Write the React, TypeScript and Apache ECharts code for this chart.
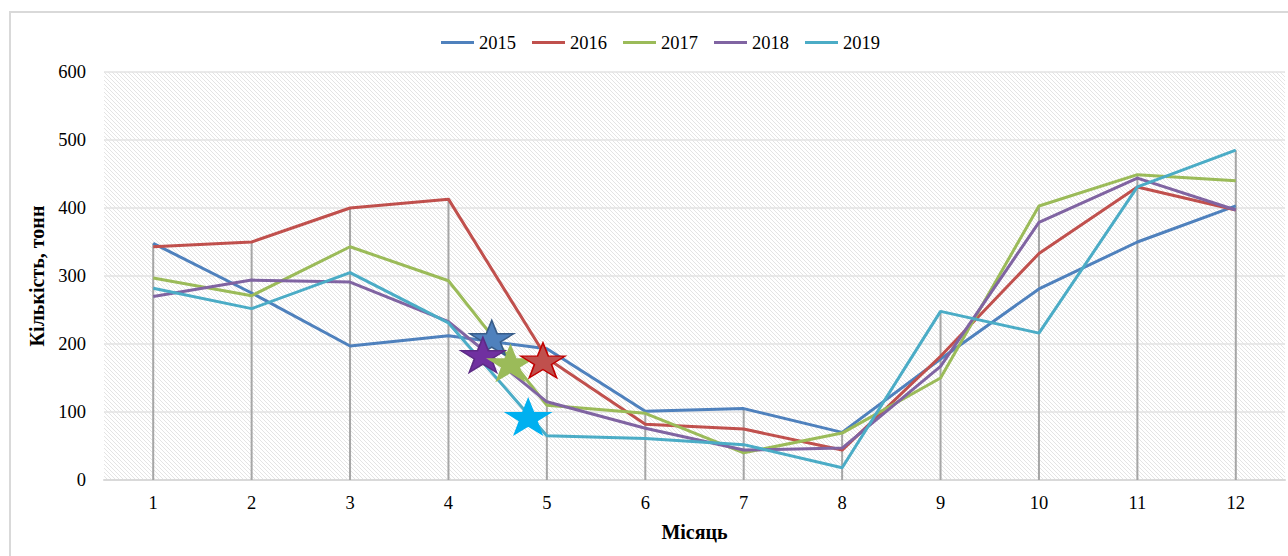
import React, { useEffect, useRef } from "react";
import * as echarts from "echarts";

const months = ["1", "2", "3", "4", "5", "6", "7", "8", "9", "10", "11", "12"];
const years = ["2015", "2016", "2017", "2018", "2019"];
const v2015 = [348, 275, 197, 212, 193, 101, 105, 70, 178, 281, 350, 403];
const v2016 = [343, 350, 400, 413, 179, 82, 75, 44, 182, 333, 431, 397];
const v2017 = [297, 271, 343, 293, 110, 98, 40, 69, 150, 403, 449, 440];
const v2018 = [270, 294, 291, 233, 115, 76, 44, 47, 167, 379, 444, 397];
const v2019 = [282, 252, 305, 231, 65, 61, 52, 18, 248, 216, 431, 485];
const colors = ["#4f81bd", "#c0504d", "#9bbb59", "#8064a2", "#4bacc6"];
// stars: [x position on month scale, value]
const starPoints = [
  [4.44, 209],
  [4.35, 184],
  [4.63, 172],
  [4.96, 176],
  [4.81, 93],
];
const starFill = ["#4f81bd", "#7030a0", "#9bbb59", "#c0504d", "#00b0f0"];
const starBorder = ["#385d8a", "#5c2a85", "#9bbb59", "#c00000", "#00b0f0"];
const yTicks = { min: 0, max: 600, interval: 100 };

const FONT = "Liberation Serif";
const STAR =
  "path://M50,0 L61.8,34.5 L97.6,34.5 L68.5,55.9 L79.4,90.5 L50,69.1 L20.6,90.5 L31.5,55.9 L2.4,34.5 L38.2,34.5 Z";

function makeHatch(): string {
  const c = document.createElement("canvas");
  c.width = 4;
  c.height = 4;
  const ctx = c.getContext("2d")!;
  ctx.fillStyle = "#ffffff";
  ctx.fillRect(0, 0, 4, 4);
  ctx.strokeStyle = "#e4e4e4";
  ctx.lineWidth = 1;
  ctx.beginPath();
  ctx.moveTo(-1, -1);
  ctx.lineTo(5, 5);
  ctx.moveTo(-3, 1);
  ctx.lineTo(3, 7);
  ctx.moveTo(1, -3);
  ctx.lineTo(7, 3);
  ctx.stroke();
  return c.toDataURL();
}

export default function App() {
  const ref = useRef<HTMLDivElement>(null);
  useEffect(() => {
    if (!ref.current) return;
    const chart = echarts.init(ref.current, undefined, { renderer: "svg" });
    const all = [v2015, v2016, v2017, v2018, v2019];
    const maxPer = months.map((_, i) => Math.max(...all.map((s) => s[i])));
    const hatch = makeHatch();
    chart.setOption({
      animation: false,
      backgroundColor: "#ffffff",
      textStyle: { fontFamily: FONT },
      graphic: [
        {
          type: "rect",
          shape: { x: 10, y: 12, width: 1300, height: 600 },
          style: { fill: "none", stroke: "#d9d9d9", lineWidth: 2 },
          z: 100,
          silent: true,
        },
      ],
      legend: {
        data: years,
        top: 28,
        left: 436,
        icon: "rect",
        itemWidth: 33,
        itemHeight: 3,
        itemGap: 16,
        textStyle: { fontFamily: FONT, fontSize: 18.5, color: "#000" },
      },
      grid: {
        left: 104,
        right: 3,
        top: 72,
        bottom: 76,
        show: true,
        borderWidth: 0,
        backgroundColor: { image: hatch, repeat: "repeat" },
      },
      xAxis: [
        {
          type: "category",
          data: months,
          boundaryGap: true,
          name: "Місяць",
          nameLocation: "middle",
          nameGap: 42,
          nameTextStyle: { fontFamily: FONT, fontSize: 20, fontWeight: "bold", color: "#000" },
          axisLine: { lineStyle: { color: "#d9d9d9", width: 2 } },
          axisTick: { show: false },
          axisLabel: { fontFamily: FONT, fontSize: 18.5, color: "#000", margin: 13 },
        },
        {
          type: "value",
          min: 0.5,
          max: 12.5,
          show: false,
        },
      ],
      yAxis: {
        type: "value",
        min: yTicks.min,
        max: yTicks.max,
        interval: yTicks.interval,
        name: "Кількість, тонн",
        nameLocation: "middle",
        nameGap: 45,
        nameTextStyle: { fontFamily: FONT, fontSize: 20, fontWeight: "bold", color: "#000" },
        axisLine: { show: false },
        axisTick: { show: false },
        axisLabel: { fontFamily: FONT, fontSize: 18.5, color: "#000", margin: 18 },
        splitLine: { lineStyle: { color: "#e3e3e3", width: 1.5 } },
      },
      series: [
        {
          type: "bar",
          name: "drop",
          data: maxPer,
          barWidth: 2,
          itemStyle: { color: "#a6a6a6" },
          silent: true,
          z: 1,
        },
        ...years.map((y, i) => ({
          type: "line",
          name: y,
          data: all[i],
          showSymbol: false,
          symbol: "none",
          lineStyle: { color: colors[i], width: 3 },
          itemStyle: { color: colors[i] },
          z: 3,
        })),
        {
          type: "scatter",
          name: "stars",
          xAxisIndex: 1,
          symbol: STAR,
          symbolSize: [44, 35],
          z: 5,
          data: starPoints.map((p, i) => ({
            value: p,
            itemStyle: {
              color: starFill[i],
              borderColor: starBorder[i],
              borderWidth: 1.5,
              opacity: 1,
            },
          })),
        },
      ],
    });
    return () => chart.dispose();
  }, []);
  return (
    <div
      ref={ref}
      style={{ position: "fixed", left: 0, top: 0, width: 1288, height: 556 }}
    />
  );
}
